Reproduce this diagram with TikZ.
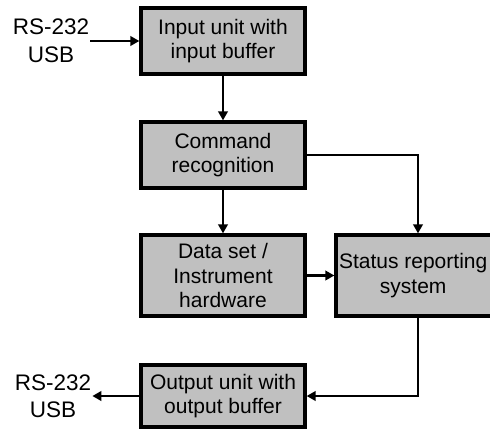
\documentclass[tikz,border=0pt]{standalone}
\usepackage{fontspec}
\setmainfont{Liberation Sans}
\usetikzlibrary{arrows.meta}
\begin{document}
\begin{tikzpicture}[x=1pt,y=-1pt,
  boxtext/.style={align=center, inner sep=0pt, font=\fontsize{21}{24.5}\selectfont},
  box/.style={boxtext, draw=black, line width=3.3pt, fill=boxgray, minimum width=164pt},
  lbl/.style={align=center, inner sep=1pt, font=\fontsize{22.5}{27.5}\selectfont},
  conn/.style={line width=2.8pt, -{Triangle[length=9pt,width=9.5pt]}}]
\definecolor{boxgray}{RGB}{192,192,192}
\useasboundingbox (0,0) rectangle (490,429);
\node[box, minimum height=66pt] (in) at (223,41) {Input unit with\\input buffer};
\node[box, minimum height=66pt] (cmd) at (223,155) {Command\\recognition};
\node[box, minimum height=81pt] (data) at (223,275.5) {Data set /\\Instrument\\hardware};
\node[box, minimum height=81pt] (stat) at (418,275.5) {};
\node[boxtext, anchor=east] (stattext) at (487.5,275.5) {Status reporting\\system};
\node[box, minimum height=62pt] (out) at (223,396) {Output unit with\\output buffer};
\node[lbl] (rsin) at (51,41) {RS-232\\USB};
\node[lbl] (rsout) at (53,396) {RS-232\\USB};
\draw[conn] (rsin) -- (in);
\draw[conn] (in) -- (cmd);
\draw[conn] (cmd) -- (data);
\draw[conn] (cmd.east) -| (stat.north);
\draw[conn] (data) -- (stat);
\draw[conn] (stat.south) |- (out.east);
\draw[conn] (out) -- (rsout);
\end{tikzpicture}
\end{document}
